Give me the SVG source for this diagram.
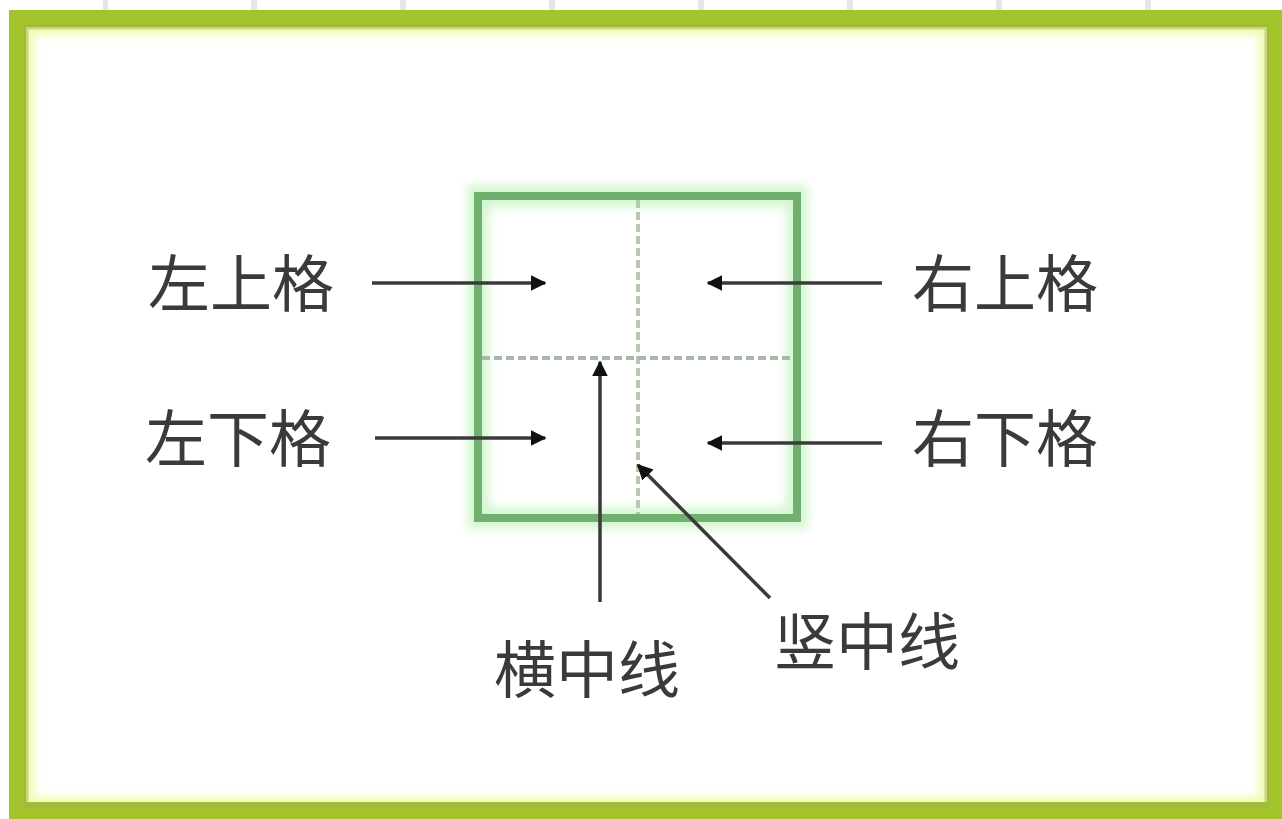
<svg xmlns="http://www.w3.org/2000/svg" width="1282" height="819" viewBox="0 0 1282 819">
<style>
.lbl{font-family:"Noto Sans CJK SC","Noto Sans",sans-serif;font-size:62px;fill:#3a3a3a;}
.conn line{stroke:#3a3a3a;stroke-width:3.5;}
</style>
<defs>
<marker id="ah" viewBox="0 0 10 10" refX="9" refY="5" markerWidth="4.5" markerHeight="4.5" orient="auto" markerUnits="strokeWidth">
<path d="M0,0 L10,5 L0,10 z" fill="#111"/>
</marker>
<linearGradient id="gl" x1="0" y1="0" x2="1" y2="0">
<stop offset="0" stop-color="#e6f8a0"/><stop offset="1" stop-color="#fffff8"/>
</linearGradient>
<filter id="blur" x="-10%" y="-10%" width="120%" height="120%"><feGaussianBlur stdDeviation="5"/></filter>
</defs>
<rect width="1282" height="819" fill="#ffffff"/>
<g id="topstrip" fill="#e6e6e6">
<rect x="103" y="0" width="5" height="10"/>
<rect x="251" y="0" width="6" height="10"/>
<rect x="400" y="0" width="6" height="10"/>
<rect x="549" y="0" width="6" height="10"/>
<rect x="698" y="0" width="6" height="10"/>
<rect x="847" y="0" width="6" height="10"/>
<rect x="996" y="0" width="6" height="10"/>
<rect x="1145" y="0" width="6" height="10"/>
</g>
<g id="frame">
<rect x="26" y="27" width="1241" height="778" fill="none" stroke="#eefcb0" stroke-width="16" filter="url(#blur)"/>
<rect x="17.5" y="18.5" width="1258" height="792" fill="none" stroke="#a3c42a" stroke-width="17"/>
<rect x="26" y="27" width="1241" height="778" fill="none" stroke="#a2b04a" stroke-width="5" opacity="0.5"/>
</g>
<g id="grid">
<rect x="478" y="196" width="319" height="322" fill="none" stroke="#d4f6d0" stroke-width="22" filter="url(#blur)"/>
<line x1="638" y1="200" x2="638" y2="514" stroke="#b8c8b0" stroke-width="4" stroke-dasharray="8 4"/>
<line x1="482" y1="358" x2="793" y2="358" stroke="#a8b8a8" stroke-width="4" stroke-dasharray="8 4"/>
<rect x="478" y="196" width="319" height="322" fill="none" stroke="#6fb06f" stroke-width="8"/>
</g>
<g class="conn" id="connectors">
<line x1="372" y1="283" x2="545" y2="283" marker-end="url(#ah)"/>
<line x1="882" y1="283" x2="708" y2="283" marker-end="url(#ah)"/>
<line x1="375" y1="438" x2="545" y2="438" marker-end="url(#ah)"/>
<line x1="882" y1="443" x2="708" y2="443" marker-end="url(#ah)"/>
<line x1="600" y1="602" x2="600" y2="362" marker-end="url(#ah)"/>
<line x1="770" y1="598" x2="638" y2="465" marker-end="url(#ah)"/>
</g>
<g id="n1"><text class="lbl" x="148" y="307">左上格</text></g>
<g id="n2"><text class="lbl" x="912" y="307">右上格</text></g>
<g id="n3"><text class="lbl" x="145" y="462">左下格</text></g>
<g id="n4"><text class="lbl" x="912" y="462">右下格</text></g>
<g id="n5"><text class="lbl" x="494" y="693">横中线</text></g>
<g id="n6"><text class="lbl" x="774" y="665">竖中线</text></g>
</svg>
